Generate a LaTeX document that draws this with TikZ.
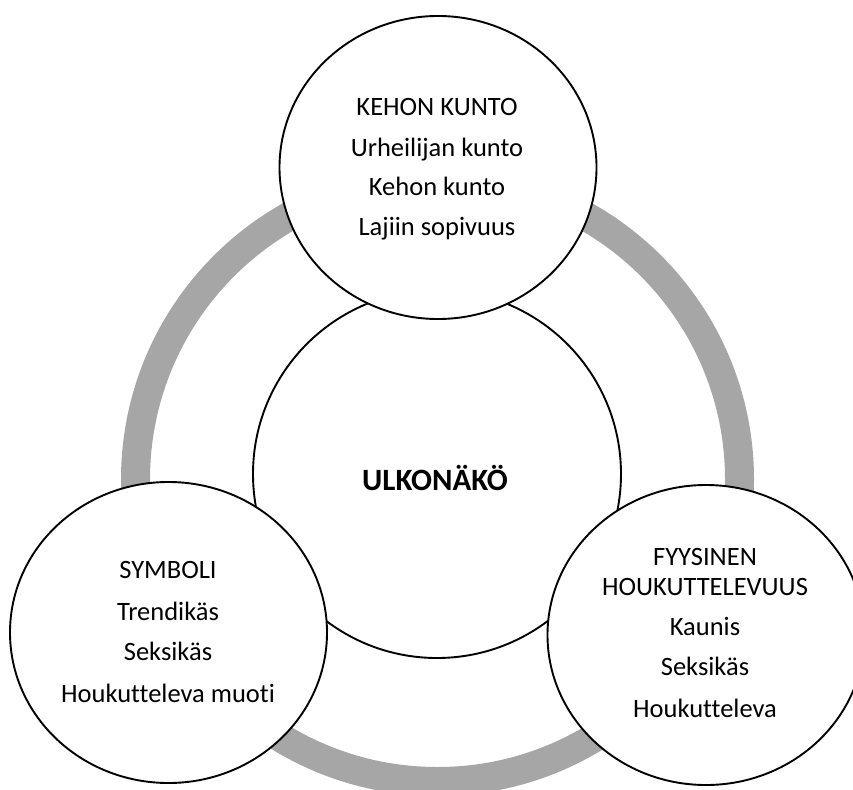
\documentclass[tikz,border=0pt]{standalone}
\usepackage{fontspec}
\setmainfont{Carlito}[Ligatures=NoCommon]
\usetikzlibrary{shapes.geometric}
\definecolor{ringgray}{RGB}{166,166,166}
\begin{document}
\begin{tikzpicture}[x=1pt,y=-1pt,
  bubble/.style={ellipse,draw=black,line width=1.9pt,fill=white,inner sep=0pt},
  txt/.style={anchor=base,inner sep=0pt,font=\fontsize{26.5}{30}\selectfont},
  ctxt/.style={anchor=base,inner sep=0pt,font=\fontsize{31}{36}\selectfont\bfseries}]
\useasboundingbox (0,0) rectangle (853,789);
% gray ring
\draw[ringgray,line width=29pt] (437.5,479.5) circle[radius=302];
% central circle
\node[bubble,minimum width=368pt,minimum height=368pt] (center) at (437,474) {};
% outer circles
\node[bubble,minimum width=317pt,minimum height=303pt] (top) at (438,167.5) {};
\node[bubble,minimum width=317pt,minimum height=301pt] (left) at (168.5,632.5) {};
\node[bubble,minimum width=317pt,minimum height=300pt] (right) at (706,635) {};
% texts
\node[ctxt] (ctitle) at (435,490) {ULKONÄKÖ};
\node[txt] (t1) at (437,115) {KEHON KUNTO};
\node[txt] (t2) at (437,156) {Urheilijan kunto};
\node[txt] (t3) at (437,195) {Kehon kunto};
\node[txt] (t4) at (437,235) {Lajiin sopivuus};
\node[txt] (l1) at (168,578) {SYMBOLI};
\node[txt] (l2) at (168,620) {Trendikäs};
\node[txt] (l3) at (168,660) {Seksikäs};
\node[txt] (l4) at (168,702) {Houkutteleva muoti};
\node[txt] (r1) at (705,565) {FYYSINEN};
\node[txt] (r2) at (705,595) {HOUKUTTELEVUUS};
\node[txt] (r3) at (705,635) {Kaunis};
\node[txt] (r4) at (705,675) {Seksikäs};
\node[txt] (r5) at (705,717) {Houkutteleva};
\end{tikzpicture}
\end{document}
